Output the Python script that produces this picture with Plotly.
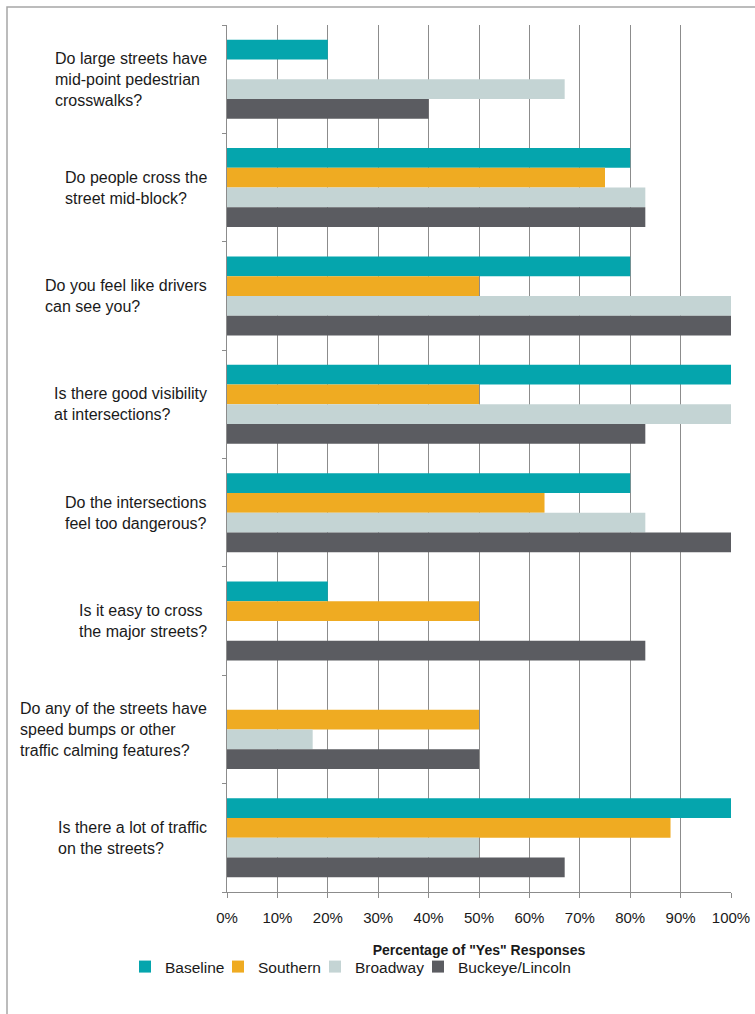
import plotly.graph_objects as go

categories = [
    "Do large streets have<br>mid-point pedestrian<br>crosswalks?",
    "Do people cross the<br>street mid-block?",
    "Do you feel like drivers<br>can see you?",
    "Is there good visibility<br>at intersections?",
    "Do the intersections<br>feel too dangerous?",
    "Is it easy to cross<br>the major streets?",
    "Do any of the streets have<br>speed bumps or other<br>traffic calming features?",
    "Is there a lot of traffic<br>on the streets?",
]
baseline = [0.20, 0.80, 0.80, 1.00, 0.80, 0.20, 0.0, 1.00]
southern = [0.0, 0.75, 0.50, 0.50, 0.63, 0.50, 0.50, 0.88]
broadway = [0.67, 0.83, 1.00, 1.00, 0.83, 0.0, 0.17, 0.50]
buckeye = [0.40, 0.83, 1.00, 0.83, 1.00, 0.83, 0.50, 0.67]

series = [
    ("Baseline", baseline, "#05A5AD", 48),
    ("Southern", southern, "#EFAB22", 52),
    ("Broadway", broadway, "#C4D4D4", 58),
    ("Buckeye/Lincoln", buckeye, "#5B5C61", 140),
]

ypos = list(range(len(categories)))

fig = go.Figure()
for name, vals, color, lw in series:
    fig.add_trace(go.Bar(
        y=ypos, x=vals, name=name, orientation="h",
        marker=dict(color=color, line=dict(width=0)),
        legendwidth=lw,
    ))

L, R, T, B = 227, 24, 25, 122
W, H = 755, 1014
pw, ph = W - L - R, H - T - B

fig.update_layout(
    width=W, height=H, autosize=False,
    margin=dict(l=L, r=R, t=T, b=B, autoexpand=False),
    paper_bgcolor="white", plot_bgcolor="white",
    barmode="group", bargap=0.27, bargroupgap=0,
    font=dict(family="Liberation Sans, Arial, sans-serif", size=15, color="#1a1a1a"),
    showlegend=True,
    legend=dict(orientation="h", x=(125 - L) / pw, xanchor="left",
                y=(H - B - 967) / ph, yanchor="middle",
                font=dict(size=15.5), traceorder="normal",
                itemwidth=30, itemsizing="constant",
                entrywidthmode="pixels"),
    xaxis=dict(
        range=[0, 1], tickvals=[i / 10 for i in range(11)],
        tickformat=".0%", showgrid=True, gridcolor="#8c8c8c", gridwidth=1,
        showline=True, linecolor="#8c8c8c", linewidth=1,
        ticks="outside", ticklen=5, tickcolor="#8c8c8c",
        tickfont=dict(size=15), zeroline=False, automargin=False,
        ticklabelstandoff=7,
        title=dict(text="<b>Percentage of \"Yes\" Responses</b>", standoff=20,
                   font=dict(size=14)),
        fixedrange=True,
    ),
    yaxis=dict(
        range=[len(categories) - 0.5, -0.5],
        tickvals=[i + 0.5 for i in range(-1, len(categories))],
        showticklabels=False, showgrid=False, zeroline=False,
        showline=True, linecolor="#8c8c8c", linewidth=1,
        ticks="outside", ticklen=4, tickcolor="#8c8c8c",
        automargin=False, fixedrange=True,
    ),
)

for i, cat in enumerate(categories):
    fig.add_annotation(
        x=0, xref="paper", y=i, yref="y", text=cat, showarrow=False,
        xanchor="right", yanchor="middle", align="left", xshift=-18,
        font=dict(size=16, color="#1a1a1a"),
    )

# outer frame
fig.add_shape(type="rect", xref="paper", yref="paper",
              x0=(7 - L) / pw, x1=(770 - L) / pw,
              y0=(H - B - 1030) / ph, y1=(H - B - 7) / ph,
              line=dict(color="#a6a6a6", width=1.5), fillcolor="rgba(0,0,0,0)",
              layer="below")

fig.write_html(
    "out.html",
    config={"displayModeBar": False},
    post_script="document.body.style.margin='0';document.body.style.overflow='hidden';",
)
